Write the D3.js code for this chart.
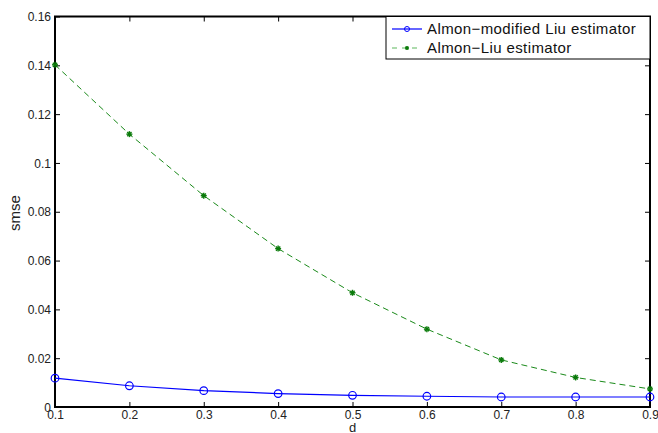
<!DOCTYPE html>
<html><head><meta charset="utf-8">
<script src="https://cdn.jsdelivr.net/npm/d3@7"></script>
<style>body{margin:0;background:#fff}svg{display:block}text{font-family:"Liberation Sans",Arial,sans-serif}</style>
</head><body><svg id="c" width="658" height="433"></svg>
<script>
const dVals = [0.1,0.2,0.3,0.4,0.5,0.6,0.7,0.8,0.9];
const almonModifiedLiu = [0.0118,0.0087,0.0067,0.0055,0.0048,0.0044,0.0041,0.0041,0.0041];
const almonLiu = [0.1402,0.1118,0.0866,0.0649,0.0468,0.0319,0.0193,0.0121,0.0074];
const xTicks = [0.1,0.2,0.3,0.4,0.5,0.6,0.7,0.8,0.9];
const yTicks = [0,0.02,0.04,0.06,0.08,0.1,0.12,0.14,0.16];
const seriesNames = ["Almon\u2212modified Liu estimator","Almon\u2212Liu estimator"];

const svg = d3.select("#c");
const L=55,R=650,T=16.5,B=407;
const x = d3.scaleLinear().domain([0.1,0.9]).range([L,R]);
const y = d3.scaleLinear().domain([0,0.16]).range([B,T]);
const fmt = v => v===0 ? "0" : String(+v.toFixed(2));

// axes
const xa = svg.append("g").attr("transform",`translate(0,${B})`)
  .call(d3.axisBottom(x).tickValues(xTicks).tickSize(-5).tickPadding(7).tickFormat(fmt));
const xaTop = svg.append("g").attr("transform",`translate(0,${T})`)
  .call(d3.axisTop(x).tickValues(xTicks).tickSize(-5).tickFormat(""));
const ya = svg.append("g").attr("transform",`translate(${L},0)`)
  .call(d3.axisLeft(y).tickValues(yTicks).tickSize(-5).tickPadding(4).tickFormat(fmt));
const yaR = svg.append("g").attr("transform",`translate(${R},0)`)
  .call(d3.axisRight(y).tickValues(yTicks).tickSize(-5).tickFormat(""));
[xa,xaTop,ya,yaR].forEach(g=>{
  g.select(".domain").remove();
  g.selectAll(".tick line").attr("stroke","#000").attr("stroke-width",1);
  g.selectAll("text").attr("font-size",12).attr("fill","#222")
   .attr("font-family","'Liberation Sans',Arial,sans-serif");
});
ya.selectAll(".tick text").attr("dy","0.35em");
xa.selectAll(".tick text").attr("dy","0.45em");
svg.append("rect").attr("x",L).attr("y",T).attr("width",R-L).attr("height",B-T)
  .attr("fill","none").attr("stroke","#000").attr("stroke-width",2);

// labels
svg.append("text").attr("x",(L+R)/2).attr("y",432).attr("text-anchor","middle")
  .attr("font-size",13).attr("fill","#222").text("d");
svg.append("text").attr("transform","translate(20,213) rotate(-90)").attr("text-anchor","middle")
  .attr("font-size",15).attr("fill","#222").text("smse");

const line = d3.line().x((d,i)=>x(dVals[i])).y(d=>y(d));
// green dashed
svg.append("path").datum(almonLiu).attr("d",line).attr("fill","none")
  .attr("stroke","#1a8a1a").attr("stroke-width",1).attr("stroke-dasharray","6,4");
// blue solid
svg.append("path").datum(almonModifiedLiu).attr("d",line).attr("fill","none")
  .attr("stroke","#0000ff").attr("stroke-width",1.2);

function star(g,cx,cy,s,col){
  const a = [0,45,90,135];
  a.forEach(deg=>{
    const r=deg*Math.PI/180;
    g.append("line").attr("x1",cx-s*Math.cos(r)).attr("y1",cy-s*Math.sin(r))
     .attr("x2",cx+s*Math.cos(r)).attr("y2",cy+s*Math.sin(r))
     .attr("stroke",col).attr("stroke-width",1.4);
  });
}
const gs = svg.append("g");
almonLiu.forEach((v,i)=>star(gs,x(dVals[i]),y(v),3,"#0a7a0a"));
svg.append("g").selectAll("circle").data(almonModifiedLiu).join("circle")
  .attr("cx",(d,i)=>x(dVals[i])).attr("cy",d=>y(d)).attr("r",3.8)
  .attr("fill","none").attr("stroke","#0000ff").attr("stroke-width",1.2);

// legend
const lg = svg.append("g");
lg.append("rect").attr("x",386).attr("y",16.5).attr("width",264).attr("height",42.5)
  .attr("fill","#fff").attr("stroke","#000").attr("stroke-width",1);
lg.append("line").attr("x1",392).attr("x2",422).attr("y1",29).attr("y2",29)
  .attr("stroke","#0000ff").attr("stroke-width",1.2);
lg.append("circle").attr("cx",407).attr("cy",29).attr("r",2.5).attr("fill","none")
  .attr("stroke","#0000ff").attr("stroke-width",1);
lg.append("line").attr("x1",392).attr("x2",422).attr("y1",48).attr("y2",48)
  .attr("stroke","#5cb85c").attr("stroke-width",1.2).attr("stroke-dasharray","5,5");
star(lg,407,48,2,"#0a7a0a");
lg.selectAll("text.l").data(seriesNames).join("text").attr("class","l")
  .attr("x",427).attr("y",(d,i)=>29+i*19).attr("dy","0.35em")
  .attr("font-size",15).attr("letter-spacing","0.4px").attr("fill","#111").text(d=>d);
</script></body></html>
